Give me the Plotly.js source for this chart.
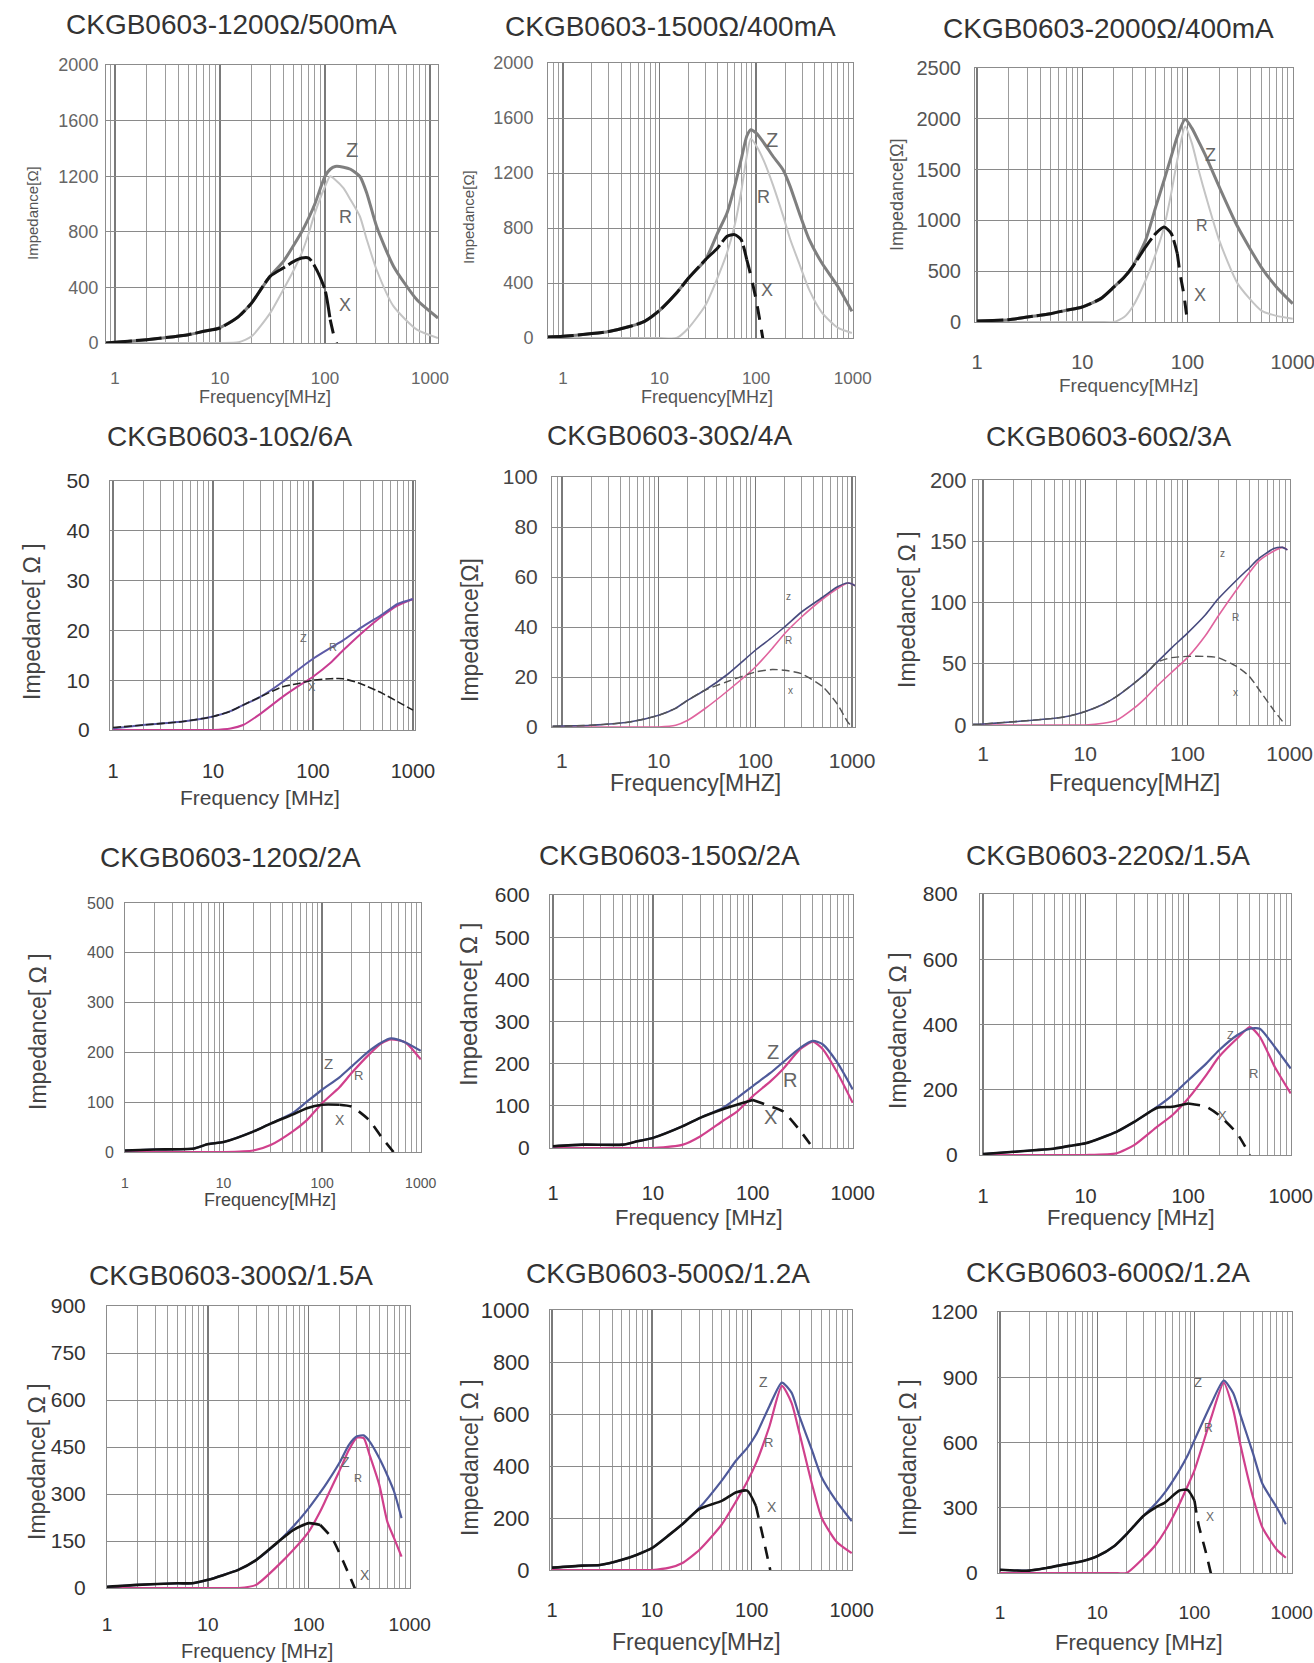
<!DOCTYPE html>
<html><head><meta charset="utf-8">
<script src="https://cdn.plot.ly/plotly-3.0.1.min.js"></script>
<style>html,body{margin:0;padding:0;background:#fff}#chart{width:1314px;height:1663px}</style>
</head><body><div id="chart"></div>
<script>
const W = 1314, H = 1663;
const FONT = 'Liberation Sans, Arial, Helvetica, sans-serif';

// ---------------- DATA ----------------
const partTitles = ['CKGB0603-1200Ω/500mA','CKGB0603-1500Ω/400mA','CKGB0603-2000Ω/400mA',
  'CKGB0603-10Ω/6A','CKGB0603-30Ω/4A','CKGB0603-60Ω/3A',
  'CKGB0603-120Ω/2A','CKGB0603-150Ω/2A','CKGB0603-220Ω/1.5A',
  'CKGB0603-300Ω/1.5A','CKGB0603-500Ω/1.2A','CKGB0603-600Ω/1.2A'];
const xTitles = ['Frequency[MHz]','Frequency[MHz]','Frequency[MHz]','Frequency [MHz]','Frequency[MHZ]','Frequency[MHZ]',
  'Frequency[MHz]','Frequency [MHz]','Frequency [MHz]','Frequency [MHz]','Frequency[MHz]','Frequency [MHz]'];
const yTitles = ['Impedance[Ω]','Impedance[Ω]','Impedance[Ω]','Impedance[ Ω ]','Impedance[Ω]','Impedance[ Ω ]',
  'Impedance[ Ω ]','Impedance[ Ω ]','Impedance[ Ω ]','Impedance[ Ω ]','Impedance[ Ω ]','Impedance[ Ω ]'];
const curveNames = [['Z','R','X'],['Z','R','X'],['Z','R','X'],['Z','R','X'],['z','R','x'],['z','R','x'],
  ['Z','R','X'],['Z','R','X'],['Z','R','X'],['Z','R','X'],['Z','R','X'],['Z','R','X']];
const xTickVals = [1, 10, 100, 1000];
const xTickText = ['1', '10', '100', '1000'];

// 1200Ω/500mA
const f1200 = [0.82,1,2,5,7,10,15,20,30,40,50,60,70,80,100,112,125,150,175,215,250,310,450,750,1190];
const z1200 = [0,5,24,60,84,110,190,290,480,585,700,800,900,1000,1200,1250,1270,1265,1250,1198,1078,838,551,311,180];
const r1200 = [0,0,0,0,0,0,5,48,215,383,520,647,790,934,1126,1200,1175,1114,1030,910,743,527,263,96,36];
const x1200 = [0,5,24,60,84,108,190,287,479,539,585,611,611,551,383,168,null,null,null,null,null,null,null,null,null];
const xtF1200 = [112,125,139];
const xtV1200 = [168,20,-48];

// 1500Ω/400mA
const f1500 = [0.7,1,2,3,5,7,10,15,20,30,40,50,60,70,80,88,100,120,150,190,225,280,355,480,700,980];
const z1500 = [7,12,32,48,85,121,200,327,436,570,764,909,1103,1297,1467,1515,1491,1420,1320,1224,1103,909,715,545,376,194];
const r1500 = [0,0,0,0,0,0,0,0,73,240,440,620,820,1060,1321,1450,1400,1290,1110,890,720,540,350,185,75,36];
const x1500 = [7,12,32,48,85,121,200,327,436,570,655,739,752,715,570,null,null,null,null,null,null,null,null,null,null,null];
const xtF1500 = [80,85,100,118];
const xtV1500 = [570,500,279,-12];

// 2000Ω/400mA
const f2000 = [1,2,3,5,7,10,15,20,25,30,40,50,60,70,80,95,110,130,150,200,300,500,700,1000];
const z2000 = [10,23,49,82,115,148,230,345,440,543,806,1135,1398,1628,1826,1995,1908,1760,1628,1332,937,543,345,181];
const r2000 = [0,0,0,0,0,0,0,0,49,148,411,674,937,1266,1595,1924,1760,1464,1234,806,378,115,60,33];
const x2000 = [10,23,49,82,115,148,230,345,440,543,740,872,935,872,674,null,null,null,null,null,null,null,null,null];
const xtF2000 = [80,85,92,100];
const xtV2000 = [674,477,280,0];

// 10Ω/6A
const f10 = [1,2,5,10,15,20,30,50,70,100,150,200,300,500,700,1000];
const z10 = [0.3,1,1.7,2.7,3.8,5,6.7,9.7,12,14.3,16.5,18,20.5,23.3,25.3,26.3];
const r10 = [0,0,0,0,0.3,1,3.3,6.7,8.7,10.7,13.5,16,19.3,23,25,26.3];
const x10 = [0.5,1,1.7,2.7,3.8,5,6.7,8.7,9.3,10,10.3,10.3,9.3,7.3,5.7,4];

// 30Ω/4A
const f30 = [0.8,1,2,5,10,15,20,30,50,100,150,200,300,500,700,900,1000,1070];
const z30 = [0.3,0.4,0.7,2,4.7,7.5,10.7,14.7,20.7,30.7,36,40,46,52,56,57.6,57.2,56.5];
const r30 = [0,0,0,0,0,0.7,2.7,7.3,14,24,31.5,37.3,44,51.3,55.3,57.6,57.2,56.5];
const x30 = [0.3,0.4,0.7,2,4.7,7.5,10.7,14.7,18,22,23,22.7,21.3,16,9.3,2,0,null];

// 60Ω/3A
const f60 = [0.8,1,2,5,7,10,15,20,30,40,50,70,100,150,200,300,400,500,700,850,950];
const z60 = [0.5,0.8,2.7,5.5,7.4,11,17,23,34,43,51,63,75,90,103,118,128,136,144,145,143];
const r60 = [0,0,0,0,0,0,1.4,3.6,13.7,23,31.5,43,55,73,89,110,124,134,142,145,143];
const x60 = [0.5,0.8,2.7,5.5,7.4,11,17,23,34,42.5,51,55,56,56,55,48,40,29,12,3,null];

// 120Ω/2A
const f120 = [1,2,5,7,10,20,30,50,70,100,150,200,300,400,500,700,1000];
const z120 = [3,5,7,16,20,41,57,78,101,125,150,172,203,220,228,220,203];
const r120 = [0,0,0,0,0,3,14,41,64,98,130,159,196,218,226,220,186];
const x120 = [3,5,7,16,20,41,57,75,88,95,95,null,null,null,null,null,null];
const xtF120 = [150,200,300,400,530];
const xtV120 = [95,91,64,30,0];

// 150Ω/2A
const f150 = [1,2,5,7,10,20,30,50,70,100,150,200,300,400,500,700,1000];
const z150 = [4,8,8,16,24,52,72,95,119,147,178,203,238,254,246,203,139];
const r150 = [0,0,0,0,0,8,28,64,87,123,158,187,235,252,235,179,107];
const x150 = [4,8,8,16,24,52,72,92,103,114,null,null,null,null,null,null,null];
const xtF150 = [100,150,200,300,400];
const xtV150 = [114,99,87,40,0];

// 220Ω/1.5A
const f220 = [1,2,5,7,10,20,30,50,70,100,150,200,300,400,500,700,1000];
const z220 = [3,10,20,28,36,71,102,148,183,229,280,321,367,387,387,331,265];
const r220 = [0,0,0,0,0,5,31,87,122,173,245,301,357,392,362,270,189];
const x220 = [3,10,20,28,36,71,102,145,148,158,null,null,null,null,null,null,null];
const xtF220 = [100,150,200,300,400];
const xtV220 = [158,148,122,66,0];

// 300Ω/1.5A
const f300 = [1,2,5,7,10,20,30,50,70,100,130,150,200,250,300,350,400,500,600,700,830];
const z300 = [4,10,15,15,26,58,89,148,196,255,305,334,398,457,484,487,468,414,360,308,223];
const r300 = [0,0,0,0,0,0,10,73,121,180,245,287,372,441,480,478,425,329,212,159,100];
const x300 = [4,10,15,15,26,58,89,148,185,207,201,null,null,null,null,null,null,null,null,null,null];
const xtF300 = [130,170,220,300];
const xtV300 = [201,159,84,-17];

// 500Ω/1.2A
const f500 = [1,2,3,5,7,10,15,20,30,50,70,90,110,150,200,250,300,400,500,700,1000];
const z500 = [9,17,19,39,58,84,136,175,240,344,422,470,520,630,721,682,591,461,357,266,188];
const r500 = [0,0,0,0,0,0,9,26,78,175,266,340,410,552,708,643,526,331,201,110,65];
const x500 = [9,17,19,39,58,84,136,175,235,266,299,305,246,null,null,null,null,null,null,null,null];
const xtF500 = [110,130,153];
const xtV500 = [246,124,0];

// 600Ω/1.2A
const f600 = [1,2,3,5,7,10,15,20,30,40,50,70,85,100,150,200,250,300,400,500,700,870];
const z600 = [15,11,23,42,54,77,124,178,263,320,372,472,540,611,782,885,828,720,550,410,302,224];
const r600 = [0,0,0,0,0,0,0,0,70,130,194,317,400,472,720,875,751,580,348,209,108,70];
const x600 = [15,11,23,42,54,77,124,178,263,302,325,379,382,333,null,null,null,null,null,null,null,null];
const xtF600 = [100,110,130,150];
const xtV600 = [333,224,101,-15];

const series = [
  {f:f1200,z:z1200,r:r1200,x:x1200,tf:xtF1200,tv:xtV1200},
  {f:f1500,z:z1500,r:r1500,x:x1500,tf:xtF1500,tv:xtV1500},
  {f:f2000,z:z2000,r:r2000,x:x2000,tf:xtF2000,tv:xtV2000},
  {f:f10,z:z10,r:r10,x:x10},
  {f:f30,z:z30,r:r30,x:x30},
  {f:f60,z:z60,r:r60,x:x60},
  {f:f120,z:z120,r:r120,x:x120,tf:xtF120,tv:xtV120},
  {f:f150,z:z150,r:r150,x:x150,tf:xtF150,tv:xtV150},
  {f:f220,z:z220,r:r220,x:x220,tf:xtF220,tv:xtV220},
  {f:f300,z:z300,r:r300,x:x300,tf:xtF300,tv:xtV300},
  {f:f500,z:z500,r:r500,x:x500,tf:xtF500,tv:xtV500},
  {f:f600,z:z600,r:r600,x:x600,tf:xtF600,tv:xtV600}
];

// ---------------- LAYOUT CONFIG (pixels) ----------------
const cfg = [
 {l:106,r:438,t:65,b:343,lo:-0.086,hi:3.076,ymax:2000,dy:400,st:'g',xfs:17,yfs:18,tc:'#666',xtl:20,ytl:3,tt:[231,25],yt:[32,213,15],xt:[265,397,18],lb:[[352,150,20],[345,217,18],[345,305,18]]},
 {l:548,r:853,t:63,b:338,lo:-0.154,hi:3.003,ymax:2000,dy:400,st:'g',xfs:17,yfs:18,tc:'#666',xtl:25,ytl:10,tt:[670,27],yt:[468,217,15],xt:[707,397,18],lb:[[772,140,20],[763,197,18],[767,290,18]]},
 {l:975,r:1293,t:68,b:322,lo:-0.02,hi:3.003,ymax:2500,dy:500,st:'g',xfs:20,yfs:20,tc:'#555',xtl:22,ytl:9,tt:[1108,28],yt:[897,195,18],xt:[1128,385,19],lb:[[1210,155,18],[1202,225,16],[1200,295,18]]},
 {l:110,r:415,t:481,b:730,lo:-0.03,hi:3.02,ymax:50,dy:10,st:'c1',xfs:20,yfs:21,tc:'#333',xtl:23,ytl:15,tt:[229,437],yt:[32,622,23],xt:[260,797,21],lb:[[303,638,11],[333,647,11],[312,687,11]]},
 {l:552,r:855,t:477,b:727,lo:-0.103,hi:3.03,ymax:100,dy:20,st:'c2',xfs:21,yfs:21,tc:'#444',xtl:15,ytl:9,tt:[669,435],yt:[470,630,23],xt:[695,783,23],lb:[[788,597,10],[788,640,10],[790,690,10]]},
 {l:973,r:1290,t:480,b:725,lo:-0.098,hi:3.003,ymax:200,dy:50,st:'c2',xfs:21,yfs:22,tc:'#444',xtl:10,ytl:1,tt:[1108,437],yt:[907,610,23],xt:[1134,783,23],lb:[[1222,553,10],[1235,617,10],[1235,693,10]]},
 {l:125,r:421,t:903,b:1152,lo:0,hi:3.003,ymax:500,dy:100,st:'c3',xfs:14,yfs:16,tc:'#555',xtl:18,ytl:7,tt:[230,858],yt:[38,1032,23],xt:[270,1200,18],lb:[[328,1063,15],[358,1075,13],[340,1120,14]]},
 {l:550,r:853,t:895,b:1148,lo:-0.03,hi:3.003,ymax:600,dy:100,st:'c3',xfs:20,yfs:21,tc:'#333',xtl:27,ytl:15,tt:[669,855],yt:[468,1005,24],xt:[699,1217,22],lb:[[773,1052,20],[790,1080,20],[770,1117,20]]},
 {l:980,r:1291,t:894,b:1155,lo:-0.03,hi:3.003,ymax:800,dy:200,st:'c3',xfs:20,yfs:21,tc:'#333',xtl:23,ytl:17,tt:[1108,855],yt:[898,1031,23],xt:[1131,1217,22],lb:[[1230,1035,11],[1253,1073,13],[1222,1115,13]]},
 {l:107,r:410,t:1306,b:1588,lo:0,hi:3.003,ymax:900,dy:150,st:'c3',xfs:19,yfs:21,tc:'#333',xtl:19,ytl:16,tt:[231,1275],yt:[37,1462,23],xt:[257,1651,20],lb:[[345,1462,14],[358,1478,11],[365,1575,14]]},
 {l:550,r:852,t:1310,b:1570,lo:-0.02,hi:3.003,ymax:1000,dy:200,st:'c3',xfs:20,yfs:22,tc:'#333',xtl:22,ytl:15,tt:[668,1273],yt:[470,1458,23],xt:[696,1642,23],lb:[[763,1382,14],[768,1442,13],[772,1507,14]]},
 {l:998,r:1292,t:1312,b:1573,lo:-0.02,hi:3.003,ymax:1200,dy:300,st:'c3',xfs:19,yfs:21,tc:'#333',xtl:22,ytl:15,tt:[1108,1272],yt:[908,1458,23],xt:[1139,1642,22],lb:[[1198,1382,13],[1208,1428,12],[1210,1517,12]]}
];

const STY = {
  g:  {z:{color:'#7f7f7f',width:3}, r:{color:'#c4c4c4',width:2}, x:{color:'#141414',width:3,dash:'26px,4px'}, xt:{color:'#141414',width:3,dash:'14px,10px'}},
  c1: {z:{color:'#5c5aa6',width:2}, r:{color:'#c83c92',width:2}, x:{color:'#222222',width:1.6,dash:'8px,3px'}},
  c2: {z:{color:'#474a7e',width:1.6}, r:{color:'#e0649e',width:1.6}, x:{color:'#555555',width:1.4,dash:'8px,4px'}},
  c3: {z:{color:'#4f5a9a',width:2.2}, r:{color:'#d0408c',width:2.2}, x:{color:'#141414',width:2.6}, xt:{color:'#141414',width:2.6,dash:'12px,9px'}}
};

function ann(text, px, py, size, color, angle) {
  return {text:text, x:px/W, y:1-py/H, xref:'paper', yref:'paper', showarrow:false,
          xanchor:'center', yanchor:'middle', textangle:angle||0,
          font:{family:FONT, size:size, color:color}};
}

const traces = [];
const layout = {width:W, height:H, margin:{l:0,r:0,t:0,b:0}, paper_bgcolor:'#fff', plot_bgcolor:'#fff',
  showlegend:false, annotations:[], font:{family:FONT}};

series.forEach((s, i) => {
  const k = i + 1, c = cfg[i], st = STY[c.st];
  const xa = 'x' + (k === 1 ? '' : k), ya = 'y' + (k === 1 ? '' : k);
  const base = {xaxis:xa, yaxis:ya, mode:'lines', hoverinfo:'skip', showlegend:false, connectgaps:false};
  traces.push(Object.assign({}, base, {x:s.f, y:s.r, line:Object.assign({shape:'spline', smoothing:0.6}, st.r)}));
  traces.push(Object.assign({}, base, {x:s.f, y:s.z, line:Object.assign({shape:'spline', smoothing:0.6}, st.z)}));
  traces.push(Object.assign({}, base, {x:s.f, y:s.x, line:Object.assign({shape:'spline', smoothing:0.6}, st.x)}));
  if (s.tf) traces.push(Object.assign({}, base, {x:s.tf, y:s.tv, line:Object.assign({shape:'spline', smoothing:0.6}, st.xt)}));

  layout['xaxis' + (k === 1 ? '' : k)] = {
    type:'log', domain:[c.l/W, c.r/W], range:[c.lo, c.hi], anchor:ya,
    tickmode:'array', tickvals:xTickVals, ticktext:xTickText,
    ticks:'outside', ticklen:c.xtl, tickcolor:'rgba(0,0,0,0)',
    tickfont:{family:FONT, size:c.xfs, color:c.tc}, ticklabeloverflow:'allow',
    showgrid:true, gridcolor:'#7a7a7a', gridwidth:1.3,
    minor:{dtick:'D1', showgrid:true, gridcolor:'#9c9c9c', gridwidth:1, ticks:''},
    showline:true, mirror:true, linecolor:'#8c8c8c', linewidth:1,
    zeroline:false, automargin:false, fixedrange:true
  };
  layout['yaxis' + (k === 1 ? '' : k)] = {
    domain:[1 - c.b/H, 1 - c.t/H], range:[0, c.ymax], anchor:xa,
    tickmode:'linear', tick0:0, dtick:c.dy,
    ticks:'outside', ticklen:c.ytl, tickcolor:'rgba(0,0,0,0)',
    tickfont:{family:FONT, size:c.yfs, color:c.tc}, ticklabeloverflow:'allow',
    showgrid:true, gridcolor:'#8a8a8a', gridwidth:1,
    showline:true, mirror:true, linecolor:'#8c8c8c', linewidth:1,
    zeroline:false, automargin:false, fixedrange:true
  };

  layout.annotations.push(ann(partTitles[i], c.tt[0], c.tt[1], 28, '#333'));
  layout.annotations.push(ann(yTitles[i], c.yt[0], c.yt[1], c.yt[2], i < 3 ? '#555' : '#444', -90));
  layout.annotations.push(ann(xTitles[i], c.xt[0], c.xt[1], c.xt[2], i < 3 ? '#555' : '#444'));
  c.lb.forEach((p, j) => layout.annotations.push(ann(curveNames[i][j], p[0], p[1], p[2], '#666')));
});

Plotly.newPlot('chart', traces, layout, {staticPlot:true, displayModeBar:false});
</script>
</body></html>
